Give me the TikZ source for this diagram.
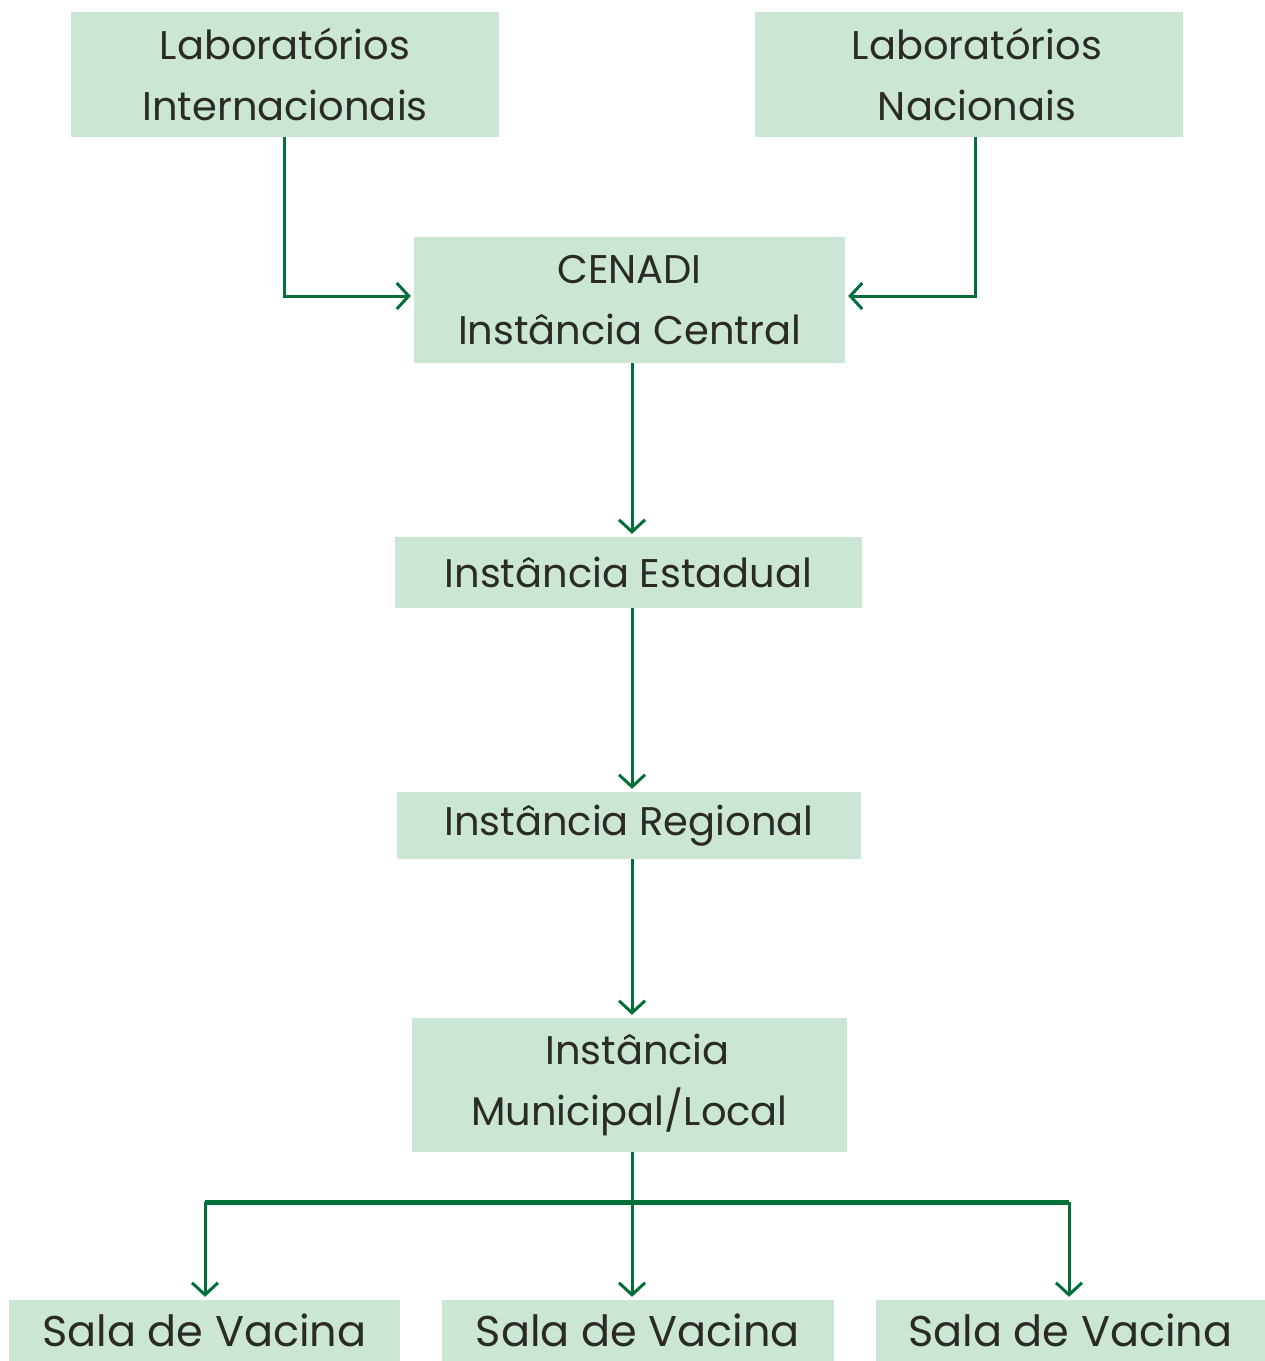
\documentclass[tikz,border=0pt]{standalone}
\usepackage{fontspec}
\setmainfont{Poppins}
\usetikzlibrary{arrows.meta}
\definecolor{boxfill}{RGB}{204,230,213}
\definecolor{linegreen}{RGB}{0,112,56}
\definecolor{txt}{RGB}{43,43,37}
\begin{document}
\begin{tikzpicture}[x=1pt,y=-1pt,
  box/.style={fill=boxfill, inner sep=0pt, text=txt, align=center,
    font=\fontsize{40}{61}\selectfont},
  conn/.style={draw=linegreen, line width=3pt, shorten >=3pt,
    -{Straight Barb[length=12pt,width=26pt,line width=3pt]}},
  bar/.style={draw=linegreen, line width=5pt}]
\useasboundingbox (0,0) rectangle (1265,1361);
\node[box, minimum width=428pt, minimum height=125pt] (li) at (285,74.5) {Laboratórios\\Internacionais};
\node[box, minimum width=428pt, minimum height=125pt] (ln) at (969,74.5) {\hspace*{16pt}Laboratórios\\\hspace*{16pt}Nacionais};
\node[box, minimum width=431pt, minimum height=126pt] (ce) at (629.5,300) {CENADI\\Instância Central};
\node[box, minimum width=467pt, minimum height=71pt] (es) at (628.5,572.5) {Instância Estadual};
\node[box, minimum width=464pt, minimum height=67pt] (re) at (629,825.5) {Instância Regional};
\node[box, minimum width=435pt, minimum height=134pt] (mu) at (629.5,1085) {\hspace*{16pt}Instância\\Municipal/Local};
\node[box, minimum width=391pt, minimum height=61pt, font=\fontsize{43}{50}\selectfont] (s1) at (204.5,1330.5) {Sala de Vacina};
\node[box, minimum width=392pt, minimum height=61pt, font=\fontsize{43}{50}\selectfont] (s2) at (638,1330.5) {Sala de Vacina};
\node[box, minimum width=389pt, minimum height=61pt, font=\fontsize{43}{50}\selectfont] (s3) at (1070.5,1330.5) {Sala de Vacina};
\coordinate (a) at (284,296);
\coordinate (b) at (975,296);
\coordinate (v) at (632,0);
\coordinate (j) at (632,1202);
\coordinate (bl) at (205,1202);
\coordinate (br) at (1069,1202);
\draw[conn] (li.south -| a) -- (a) -- (a -| ce.west);
\draw[conn] (ln.south -| b) -- (b) -- (b -| ce.east);
\draw[conn] (ce.south -| v) -- (es.north -| v);
\draw[conn] (es.south -| v) -- (re.north -| v);
\draw[conn] (re.south -| v) -- (mu.north -| v);
\draw[bar] (bl) -- (br);
\draw[conn] (mu.south -| j) -- (j |- s2.north);
\draw[conn] (bl) -- (bl |- s1.north);
\draw[conn] (br) -- (br |- s3.north);
\end{tikzpicture}
\end{document}
